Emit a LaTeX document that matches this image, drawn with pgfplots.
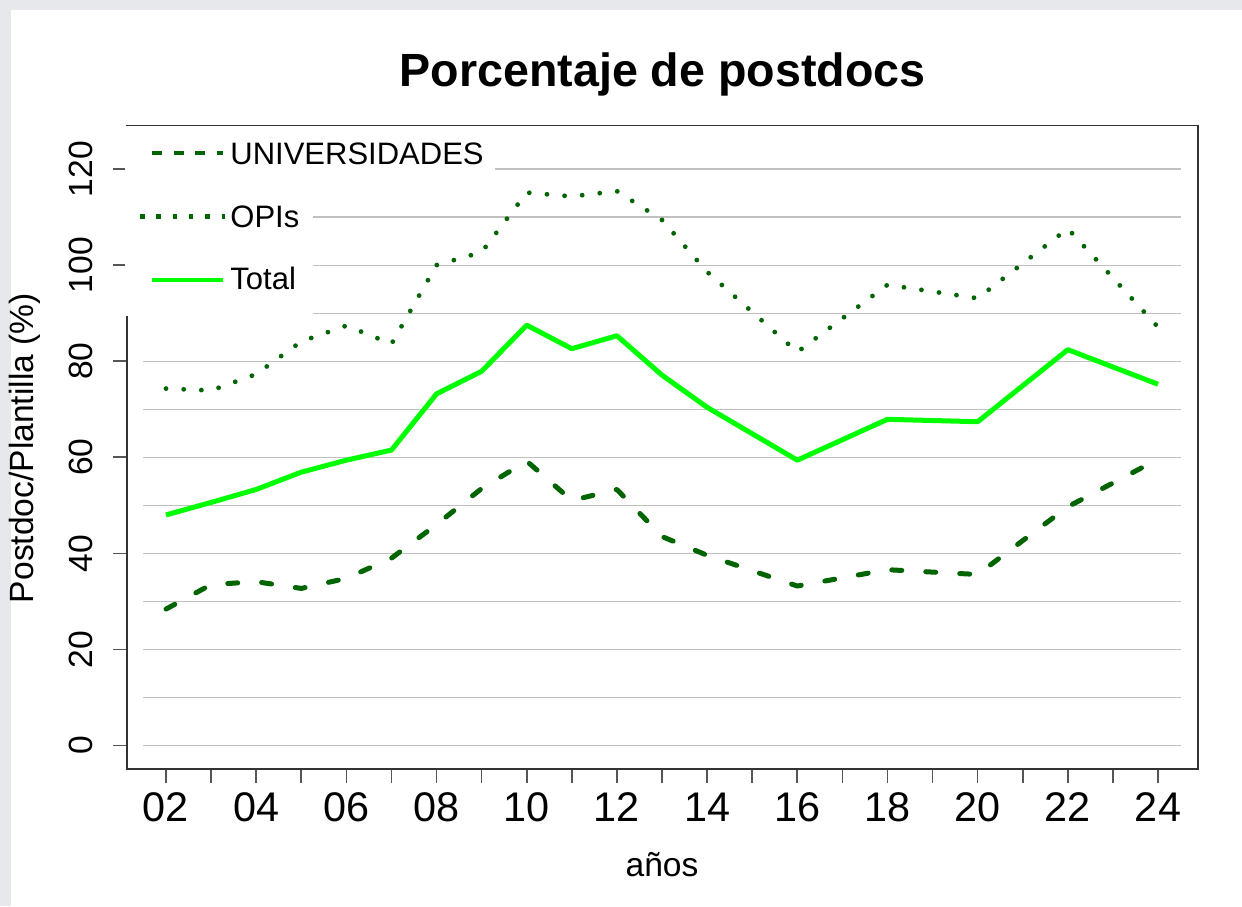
\documentclass[border=0pt]{standalone}
\usepackage{fontspec}
\setmainfont{Liberation Sans}
\usepackage{pgfplots}
\usepackage{pgfplotstable}
\pgfplotsset{compat=1.18}
\definecolor{dkgreen}{HTML}{006400}
\definecolor{limeg}{HTML}{00FF00}
\definecolor{gridgray}{HTML}{C0C0C0}
\definecolor{framegray}{HTML}{333333}
\definecolor{tickgray}{HTML}{555555}
\definecolor{bordergray}{HTML}{E6E8EB}

\pgfplotstableread{
year val
2 28.4
3 33.5
4 34.1
5 32.7
6 34.8
7 39.0
8 46.0
9 53.5
10 59.2
11 51.0
12 53.3
13 43.5
14 39.6
16 33.2
18 36.6
20 35.6
22 49.7
24 59.6
}\univ

\pgfplotstableread{
year val
2 74.3
3 73.9
4 77.3
5 84.1
6 87.4
7 83.6
8 100.0
9 102.7
10 115.1
11 114.3
12 115.4
13 109.4
14 98.6
16 81.9
18 95.9
20 93.1
22 107.6
24 87.1
}\opis

\pgfplotstableread{
year val
2 48.0
3 50.6
4 53.3
5 56.9
6 59.4
7 61.5
8 73.2
9 77.9
10 87.5
11 82.6
12 85.3
13 77.1
14 70.4
16 59.4
18 67.9
20 67.4
22 82.4
24 75.2
}\total

\begin{document}
\begin{tikzpicture}[x=0.5pt,y=-0.5pt]
\path[use as bounding box] (0,0) rectangle (1242,906);
\fill[white] (0,0) rectangle (1242,906);
\fill[bordergray] (0,0) rectangle (1242,10);
\fill[bordergray] (0,0) rectangle (11,906);
\coordinate (axisSW) at (127,769);
\begin{axis}[
  at={(axisSW)}, anchor=south west,
  scale only axis, width=535.5pt, height=321.75pt,
  xmin=1.135, xmax=24.887, ymin=-4.89, ymax=129.06,
  axis line style={framegray, line width=0.8pt},
  tick align=outside,
  xtick pos=left, ytick pos=left,
  xtick={2,4,...,24},
  xticklabels={02,04,06,08,10,12,14,16,18,20,22,24},
  minor xtick={3,5,...,23},
  ytick={0,20,...,120},
  yticklabels={0,20,40,60,80,100,120},
  major tick length=7pt, minor tick length=7pt,
  tick style={tickgray, line width=0.8pt},
  xticklabel style={font=\fontsize{20.7}{24}\selectfont, inner sep=0pt, anchor=base},
  xticklabel shift=19pt,
  yticklabel style={font=\fontsize{16.8}{20}\selectfont, inner sep=0pt, rotate=90, anchor=base},
  yticklabel shift=10pt,
]
\pgfplotsinvokeforeach{0,10,...,120}{
  \draw[gridgray, line width=0.6pt] (axis cs:1.5,#1) -- (axis cs:24.5,#1);
}
\addplot[dkgreen, line width=2.5pt, line cap=round, line join=round, dash pattern=on 5pt off 12pt] table[x=year, y=val] {\univ};
\addplot[dkgreen, line width=2.4pt, line cap=round, dash pattern=on 0pt off 8.85pt] table[x=year, y=val] {\opis};
\addplot[limeg, line width=2.5pt, line join=round] table[x=year, y=val] {\total};
\end{axis}
% legend box
\fill[white] (125,126) rectangle (313,316);
\fill[white] (125,126) rectangle (495,190);
\draw[dkgreen, line width=2pt, dash pattern=on 5pt off 5.8pt] (152,153.3) -- (223,153.3);
\draw[dkgreen, line width=2.25pt, dash pattern=on 2.25pt off 5.9pt] (140,216.7) -- (225,216.7);
\draw[limeg, line width=2.2pt] (152,280) -- (223,280);
\node[anchor=base west, inner sep=0pt, font=\fontsize{15.5}{18}\selectfont] at (230,164.3) {UNIVERSIDADES};
\node[anchor=base west, inner sep=0pt, font=\fontsize{15.5}{18}\selectfont] at (230,227) {OPIs};
\node[anchor=base west, inner sep=0pt, font=\fontsize{15.5}{18}\selectfont] at (230,289) {Total};
% titles
\node[anchor=base, inner sep=0pt, font=\fontsize{23.3}{28}\selectfont\bfseries] at (662.5,86) {Porcentaje de postdocs};
\node[anchor=base, inner sep=0pt, font=\fontsize{16.8}{20}\selectfont] at (662,876) {años};
\node[anchor=base, inner sep=0pt, rotate=90, font=\fontsize{16.8}{20}\selectfont] at (33,448) {Postdoc/Plantilla (\%)};
\end{tikzpicture}
\end{document}
